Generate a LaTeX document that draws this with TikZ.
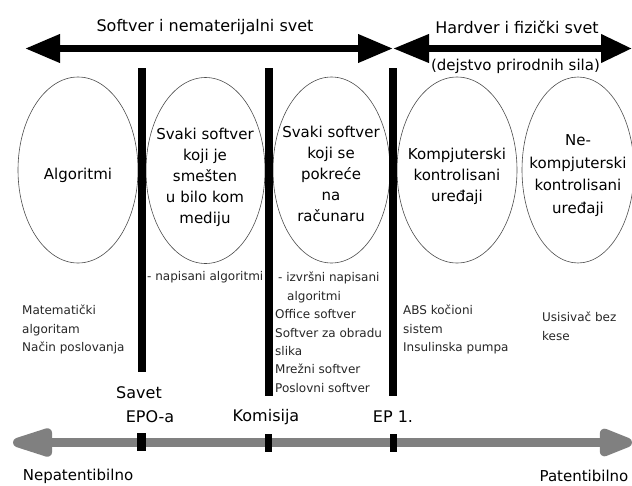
\documentclass[tikz,border=0pt]{standalone}
\usepackage{fontspec}
\setmainfont{DejaVu Sans}
\usetikzlibrary{shapes.geometric,arrows.meta}
\definecolor{arrowgray}{RGB}{128,128,128}
\begin{document}
\begin{tikzpicture}[x=1pt,y=-1pt,
  oval/.style={draw=black!70, line width=0.6pt, ellipse, minimum height=186pt, inner sep=0pt},
  big/.style={font=\fontsize{15}{21}\selectfont, align=center, inner sep=0pt},
  small/.style={font=\fontsize{12}{18.4}\selectfont, align=left, inner sep=0pt, anchor=north west, text=black!85},
  title/.style={font=\fontsize{16}{19}\selectfont, inner sep=0pt},
  lab/.style={font=\fontsize{16}{19}\selectfont, inner sep=0pt},
  bartop/.style={fill=black},
  toparrow/.style={line width=7pt, black},
  grayarrow/.style={line width=9.5pt, arrowgray},
]
\useasboundingbox (0,0) rectangle (632,485);

% top arrows
\coordinate (tl) at (25,48.5);
\coordinate (tm) at (393,48.5);
\coordinate (tr) at (632,48.5);
\draw[toparrow, {Triangle[length=35pt,width=27pt]}-{Triangle[length=35pt,width=27pt]}] (tl) -- (tm);
\draw[toparrow, {Triangle[length=36pt,width=27pt]}-{Triangle[length=31pt,width=27pt]}] (tm) -- (tr);

\node[title] (sw) at (205,27.5) {Softver i nematerijalni svet};
\node[title] (hw) at (517,27.5) {Hardver i fizički svet};
\node[title, font=\fontsize{15}{18}\selectfont] (ds) at (515.5,66.5) {(dejstvo prirodnih sila)};

% ellipses
\node[oval, minimum width=120pt] (e1) at (78,170) {};
\node[oval, minimum width=119pt] (e2) at (205.5,170.5) {};
\node[oval, minimum width=117pt] (e3) at (331.5,170) {};
\node[oval, minimum width=120pt] (e4) at (457,170) {};
\node[oval, minimum width=112pt] (e5) at (578,170) {};

% vertical bars
\fill[bartop] (137.5,68) rectangle (146,372);
\fill[bartop] (265,68) rectangle (273,396);
\fill[bartop] (389,68) rectangle (397,396);

% ellipse texts
\node[big] (t1) at (78,175) {Algoritmi};
\node[big] (t2) at (205,177.5) {Svaki softver\\koji je\\smešten\\u bilo kom\\mediju};
\node[big] (t3) at (331,174) {Svaki softver\\koji se\\pokreće\\na\\računaru};
\node[big] (t4) at (457,176.5) {Kompjuterski\\kontrolisani\\uređaji};
\node[big, font=\fontsize{15}{22.7}\selectfont] (t5) at (578,175.5) {Ne-\\kompjuterski\\kontrolisani\\uređaji};

% small texts
\node[small] (s1) at (147,271) {- napisani algoritmi};
\node[small] (s2) at (22,305) {Matematički\\algoritam\\Način poslovanja};
\node[small] (s3) at (275,272) {\hspace{3pt}- izvršni napisani\\\hspace{12pt}algoritmi\\Office softver\\Softver za obradu\\slika\\Mrežni softver\\Poslovni softver};
\node[small] (s4) at (403,305) {ABS kočioni\\sistem\\Insulinska pumpa};
\node[small] (s5) at (542,312) {Usisivač bez\\kese};

% bottom labels
\node[lab] (savet) at (139,393) {Savet};
\node[lab] (epoa) at (150,417) {EPO-a};
\node[lab] (kom) at (266,417) {Komisija};
\node[lab] (ep1) at (393,417) {EP 1.};

% bottom gray arrow
\coordinate (bl) at (13,442.5);
\coordinate (br) at (632,442.5);
\draw[grayarrow, {Triangle[length=52pt,width=29pt,round]}-{Triangle[length=42pt,width=29pt,round]}] (bl) -- (br);
\fill[bartop] (137,433) rectangle (146,451);
\fill[bartop] (265,434) rectangle (272,452);
\fill[bartop] (389.5,434) rectangle (396.5,452);

\node[lab, font=\fontsize{15}{18}\selectfont] (nep) at (78,476) {Nepatentibilno};
\node[lab, font=\fontsize{15}{18}\selectfont] (pat) at (584,476) {Patentibilno};
\end{tikzpicture}
\end{document}
